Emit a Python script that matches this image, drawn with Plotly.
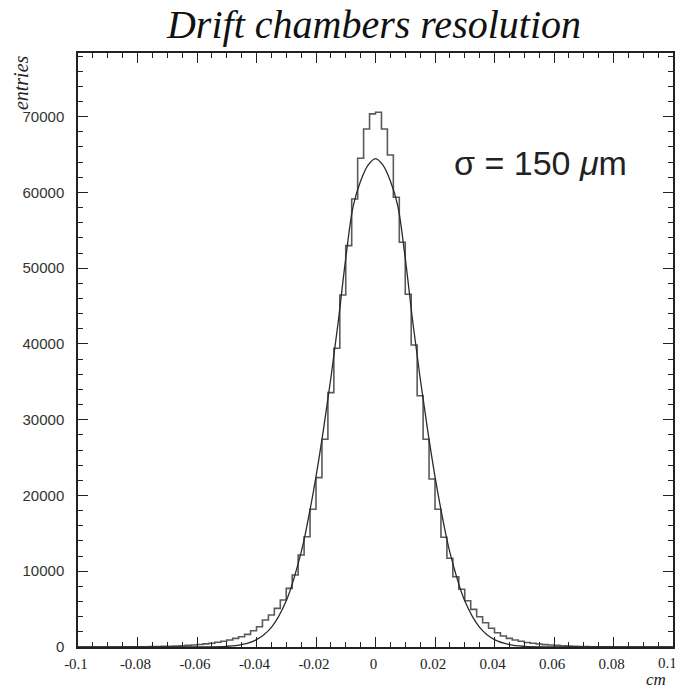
import plotly.graph_objects as go

# ---------------- data ----------------
bin_lo = -0.1
bin_width = 0.002
# 100 bins from -0.1 to 0.1 (entries per bin)
counts_left = [  # bins 0..49  (-0.100 ... 0.000)
    0, 0, 0, 0, 0, 0, 0, 5, 10, 15,
    20, 30, 45, 60, 80, 100, 130, 170, 220, 270,
    330, 410, 500, 620, 750, 920, 1140, 1360, 1670, 2150,
    2680, 3560, 4220, 5100, 6200, 7740, 9500, 12140, 14560, 18180,
    22350, 27420, 33570, 39430, 46460, 52970, 59130, 64500, 68370, 70360,
]
counts_right = [  # bins 50..99  (0.000 ... 0.100)
    70580, 68370, 64940, 59360, 53420, 46550, 39860, 33170, 27420, 22180,
    18180, 14480, 11720, 9280, 7620, 6110, 4970, 4000, 3210, 2470,
    1890, 1450, 1140, 920, 750, 600, 490, 400, 320, 260,
    210, 160, 120, 90, 70, 50, 35, 25, 15, 10,
    5, 5, 0, 0, 0, 0, 0, 0, 0, 0,
]
counts = counts_left + counts_right

fit_x = [-0.1, -0.06, -0.05, -0.045, -0.04, -0.035, -0.03, -0.025, -0.0225, -0.02,
         -0.0175, -0.015, -0.0125, -0.01, -0.0075, -0.005, -0.0025, 0.0,
         0.0025, 0.005, 0.0075, 0.01, 0.0125, 0.015, 0.0175, 0.02, 0.0225,
         0.025, 0.03, 0.035, 0.04, 0.045, 0.05, 0.06, 0.1]
fit_y = [0, 10, 90, 320, 970, 2600, 6100, 12500, 17100, 22500,
         28700, 35500, 43000, 51300, 58200, 61500, 63600, 64460,
         63600, 61500, 58200, 51300, 43000, 35500, 28700, 22500, 17100,
         12500, 6100, 2600, 970, 320, 90, 10, 0]

x_tickvals = [-0.1, -0.08, -0.06, -0.04, -0.02, 0, 0.02, 0.04, 0.06, 0.08, 0.1]
x_ticktext = ["-0.1", "-0.08", "-0.06", "-0.04", "-0.02", "0", "0.02", "0.04", "0.06", "0.08", "0.1"]
y_tickvals = [0, 10000, 20000, 30000, 40000, 50000, 60000, 70000]
y_ticktext = ["0", "10000", "20000", "30000", "40000", "50000", "60000", "70000"]

# step outline built from bin edges
edges = [bin_lo + bin_width * i for i in range(len(counts) + 1)]
step_x = edges
step_y = counts + [counts[-1]]

fig = go.Figure()
fig.add_trace(go.Scatter(x=step_x, y=step_y, mode="lines", line_shape="hv",
                         line=dict(color="#5a5a5a", width=1.6), showlegend=False,
                         hoverinfo="skip"))
fig.add_trace(go.Scatter(x=fit_x, y=fit_y, mode="lines", line_shape="spline",
                         line=dict(color="#2a2a2a", width=1.3, smoothing=1.0),
                         showlegend=False, hoverinfo="skip"))

tick_font = dict(family="Liberation Serif", size=15, color="#222")

# page body adds an 8px offset; figure is sized to fit the window
W, H = 675, 680
fig.update_layout(
    width=W, height=H,
    margin=dict(l=70, r=10, t=45, b=41, autoexpand=False),
    paper_bgcolor="white", plot_bgcolor="white",
    title=dict(text="<i>Drift chambers resolution</i>", x=366 / W, xanchor="center",
               y=1 - 16 / H, yanchor="middle",
               font=dict(family="Liberation Serif", size=40, color="#111")),
    xaxis=dict(range=[-0.1, 0.1], showgrid=False, zeroline=False, automargin=False,
               showline=True, linecolor="#222", linewidth=1.5, mirror="allticks",
               ticks="inside", ticklen=10, tickcolor="#222", tickwidth=1,
               tickvals=x_tickvals,
               ticktext=x_ticktext[:-1] + [""],  # last label drawn below, kept inside window
               ticklabelstandoff=2, ticklabelshift=-2,
               minor=dict(dtick=0.005, tick0=0, ticks="inside", ticklen=5,
                          tickcolor="#222", tickwidth=1, showgrid=False),
               tickfont=tick_font),
    yaxis=dict(range=[0, 78400], showgrid=False, zeroline=False, automargin=False,
               showline=True, linecolor="#222", linewidth=1.5, mirror="allticks",
               ticks="inside", ticklen=10, tickcolor="#222", tickwidth=1,
               tickvals=y_tickvals, ticktext=y_ticktext, ticklabelstandoff=9,
               minor=dict(dtick=2000, tick0=0, ticks="inside", ticklen=5,
                          tickcolor="#222", tickwidth=1, showgrid=False),
               tickfont=dict(family="Liberation Sans", size=15, color="#333")),
    annotations=[
        dict(text=x_ticktext[-1], xref="x", yref="paper", x=x_tickvals[-1], y=0,
             xanchor="center", yanchor="top", xshift=-6, yshift=-6, showarrow=False,
             font=tick_font),
        dict(text="<i>entries</i>", textangle=-90, xref="paper", yref="paper",
             x=-0.0958, y=0.951, xanchor="center", yanchor="middle", showarrow=False,
             font=dict(family="Liberation Serif", size=20, color="#222")),
        dict(text="<i>cm</i>", xref="paper", yref="paper",
             x=0.972, y=-0.055, xanchor="center", yanchor="middle", showarrow=False,
             font=dict(family="Liberation Serif", size=17, color="#222")),
        dict(text="σ = 150 <i>μ</i>m", xref="paper", yref="paper",
             x=0.778, y=0.815, xanchor="center", yanchor="middle", showarrow=False,
             font=dict(family="Liberation Sans", size=34, color="#222")),
    ],
)

fig.write_html("out.html")
